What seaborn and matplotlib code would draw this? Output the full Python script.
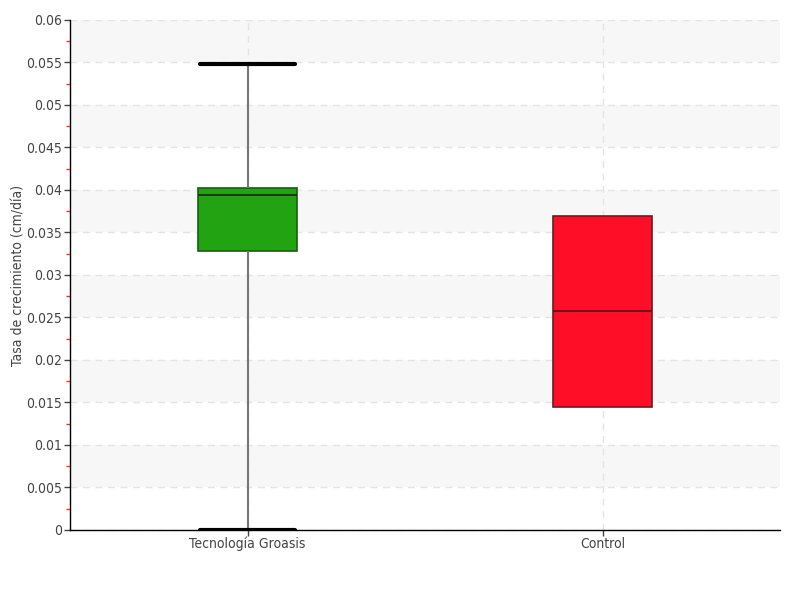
import numpy as np
import pandas as pd
import seaborn as sns
import matplotlib.pyplot as plt
from matplotlib.ticker import MultipleLocator, FuncFormatter
from matplotlib import font_manager

categories = ["Tecnología Groasis", "Control"]
groasis_values = [0.0, 0.0328, 0.0394, 0.0402, 0.0548]
control_values = [0.0145, 0.0145, 0.0258, 0.0369, 0.0369]
box_colors = ["#22a312", "#ff0f27"]
edge_colors = ["#1d5a14", "#6b1a22"]

df = pd.DataFrame({
    "grupo": [categories[0]] * len(groasis_values) + [categories[1]] * len(control_values),
    "tasa": groasis_values + control_values,
})

sns.set_style("white")
names = {f.name for f in font_manager.fontManager.ttflist}
fam = ["Liberation Sans Narrow"] if "Liberation Sans Narrow" in names else []
plt.rcParams["font.family"] = fam + ["DejaVu Sans"]
if not fam:
    plt.rcParams["font.stretch"] = "condensed"

fig = plt.figure(figsize=(8, 6), dpi=100)
ax = fig.add_axes([0.0875, 0.1167, 0.8875, 0.85])

for lo in np.arange(0.005, 0.06, 0.01):
    ax.axhspan(lo, lo + 0.005, color="#f7f7f7", zorder=0, lw=0)

width = 0.28
sns.boxplot(data=df, x="grupo", y="tasa", order=categories, hue="grupo",
            palette=box_colors, legend=False, width=width, whis=np.inf,
            linewidth=1.2, ax=ax, zorder=3,
            whiskerprops=dict(color="#777777", linewidth=1.5),
            capprops=dict(color="black", linewidth=3),
            medianprops=dict(color="#222222", linewidth=1.2),
            boxprops=dict(linewidth=1.2))

boxes = [p for p in ax.patches if p.get_zorder() >= 2]
for p, ec, fc in zip(boxes[-2:], edge_colors, box_colors):
    p.set_edgecolor(ec)
    p.set_facecolor(fc)

for ln in ax.lines:
    xd = np.asarray(ln.get_xdata(), dtype=float)
    yd = np.asarray(ln.get_ydata(), dtype=float)
    if xd.size == 0:
        continue
    center = round(xd.mean())
    is_cap = xd.size == 2 and yd.size == 2 and np.isclose(yd[0], yd[1]) and ln.get_linewidth() >= 2.5
    if center == 1:
        if np.allclose(yd, 0.0258):
            ln.set_color("#5a1017")
        else:
            ln.set_visible(False)
    elif is_cap:
        ln.set_xdata([center - width / 2 + 0.005, center + width / 2 - 0.005])

ax.set_ylim(0, 0.06)
ax.set_xlim(-0.5, 1.5)
ax.yaxis.set_major_locator(MultipleLocator(0.005))
ax.yaxis.set_minor_locator(MultipleLocator(0.0025))
ax.yaxis.set_major_formatter(FuncFormatter(lambda v, p: "0" if abs(v) < 1e-12 else ("%g" % round(v, 4))))

ax.grid(axis="y", which="major", color="#e4e4e4", linestyle=(0, (5, 4)), linewidth=1, zorder=1)
ax.grid(axis="x", which="major", color="#e4e4e4", linestyle=(0, (5, 4)), linewidth=1, zorder=1)
ax.set_axisbelow(True)

for s in ["top", "right"]:
    ax.spines[s].set_visible(False)
for s in ["left", "bottom"]:
    ax.spines[s].set_color("black")
    ax.spines[s].set_linewidth(1)

ax.tick_params(axis="y", which="major", left=True, length=4, width=1, color="#444444",
               labelsize=10, labelcolor="#444444", pad=2)
ax.tick_params(axis="y", which="minor", left=True, length=3, width=1, color="#ff3030")
ax.tick_params(axis="x", which="major", bottom=True, length=4, width=1, color="#444444",
               labelsize=10, labelcolor="#444444", pad=1)

ax.set_xlabel("")
ax.set_ylabel("Tasa de crecimiento (cm/día)", fontsize=10, color="#444444")
ax.yaxis.set_label_coords(-0.063, 0.5)

fig.savefig("out.png", dpi=100)
